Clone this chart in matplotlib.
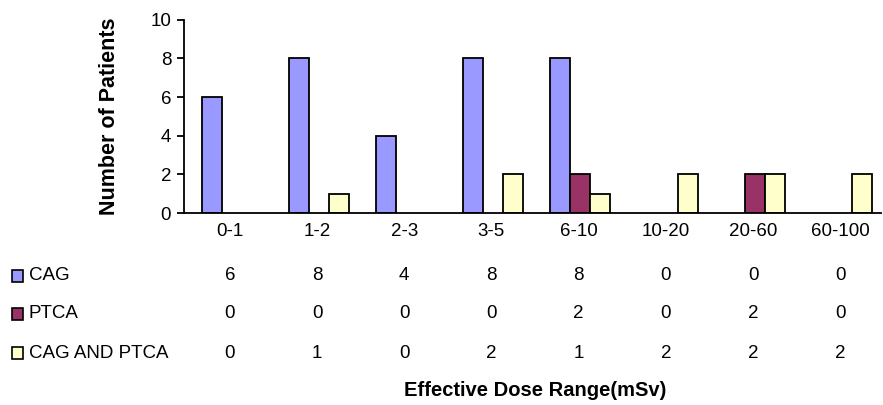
import numpy as np
import matplotlib.pyplot as plt
from matplotlib.transforms import blended_transform_factory
from matplotlib.patches import Rectangle

plt.rcParams['font.family'] = ['Liberation Sans', 'DejaVu Sans']

# データ
categories = ['0-1', '1-2', '2-3', '3-5', '6-10', '10-20', '20-60', '60-100']
cag = [6, 8, 4, 8, 8, 0, 0, 0]
ptca = [0, 0, 0, 0, 2, 0, 2, 0]
cag_ptca = [0, 1, 0, 2, 1, 2, 2, 2]
series_names = ['CAG', 'PTCA', 'CAG AND PTCA']
colors = ['#9999FF', '#993366', '#FFFFCC']

fig = plt.figure(figsize=(8.83, 4.05), dpi=100)
ax = fig.add_axes([0.208, 0.474, 0.790, 0.477])

x = np.arange(len(categories))
w = 0.23
for i, (vals, c) in enumerate(zip([cag, ptca, cag_ptca], colors)):
    bars = ax.bar(x + (i - 1) * w + 0.05, vals, w, color=c, edgecolor='black', linewidth=1.3)
    # 高さ0の棒は描かない
    for b, v in zip(bars, vals):
        if v == 0:
            b.set_visible(False)

ax.set_xlim(-0.5, len(categories) - 0.5)
ax.set_ylim(0, 10)
ax.set_yticks(range(0, 11, 2))
ax.tick_params(axis='y', labelsize=13.5, direction='out', length=5, width=1.3, pad=4)
ax.tick_params(axis='x', length=0, labelbottom=False)
ax.spines['top'].set_visible(False)
ax.spines['right'].set_visible(False)
ax.spines['left'].set_linewidth(1.3)
ax.spines['bottom'].set_linewidth(1.3)
ax.set_ylabel('Number of Patients', fontsize=15.5, fontweight='bold', labelpad=22)

# 表
trans = blended_transform_factory(ax.transData, fig.transFigure)
row_y = [1 - 276 / 405, 1 - 314 / 405, 1 - 353 / 405]
head_y = 1 - 232 / 405
fs = 13.5
for j, cat in enumerate(categories):
    ax.text(j + 0.03, head_y, cat, transform=trans, ha='center', va='center', fontsize=fs)
for r, vals in enumerate([cag, ptca, cag_ptca]):
    for j, v in enumerate(vals):
        ax.text(j + 0.03, row_y[r], str(v), transform=trans, ha='center', va='center', fontsize=fs)
    fig.patches.append(Rectangle((12 / 883, row_y[r] - 6 / 405), 11 / 883, 12 / 405,
                                 transform=fig.transFigure, facecolor=colors[r],
                                 edgecolor='black', linewidth=1.2))
    fig.text(29 / 883, row_y[r], series_names[r], ha='left', va='center', fontsize=fs)

fig.text(535 / 883, 1 - 390 / 405, 'Effective Dose Range(mSv)',
         ha='center', va='center', fontsize=14.5, fontweight='bold')

fig.savefig('out.png', dpi=100)
